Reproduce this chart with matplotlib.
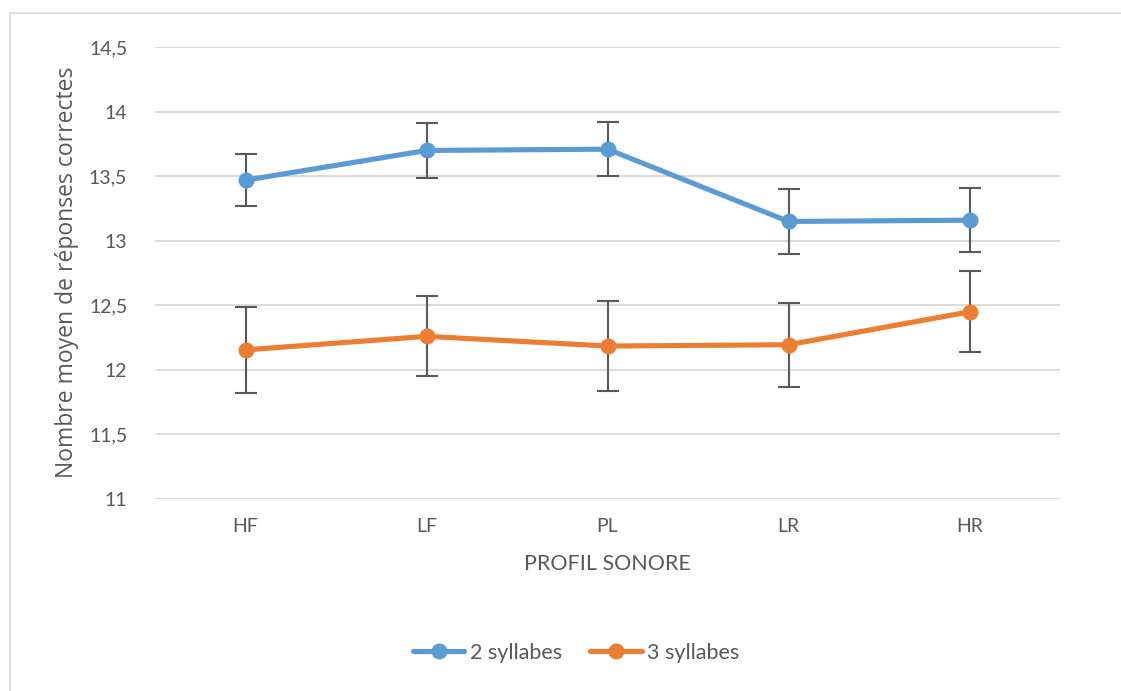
import matplotlib
matplotlib.use("Agg")
import matplotlib.pyplot as plt
from matplotlib.patches import Rectangle

categories = ["HF", "LF", "PL", "LR", "HR"]
series_names = ["2 syllabes", "3 syllabes"]
values_2syl = [13.47, 13.70, 13.71, 13.15, 13.16]
errors_2syl = [0.20, 0.21, 0.21, 0.25, 0.25]
values_3syl = [12.155, 12.26, 12.185, 12.195, 12.45]
errors_3syl = [0.335, 0.31, 0.345, 0.325, 0.315]
y_ticks = [11, 11.5, 12, 12.5, 13, 13.5, 14, 14.5]
y_tick_labels = ["11", "11,5", "12", "12,5", "13", "13,5", "14", "14,5"]

blue = "#5B9BD5"
orange = "#ED7D31"
grey_txt = "#595959"

plt.rcParams['font.family'] = ['Lato', 'DejaVu Sans']

fig = plt.figure(figsize=(11.21, 6.91), dpi=100)
fig.patches.append(Rectangle((10/1121, -0.01), 1.02, 1 - 13/691 + 0.01, transform=fig.transFigure,
                             fill=False, edgecolor="#D9D9D9", linewidth=1.2))
ax = fig.add_axes([155/1121, 1 - 499/691, 905/1121, (499 - 47.2)/691])

x = list(range(len(categories)))
for vals, errs, col, name in [(values_2syl, errors_2syl, blue, series_names[0]),
                              (values_3syl, errors_3syl, orange, series_names[1])]:
    ax.errorbar(x, vals, yerr=errs, fmt='none', ecolor=grey_txt, elinewidth=1.5,
                capsize=8, capthick=1.5, zorder=3)
    ax.plot(x, vals, color=col, linewidth=3.7, marker='o', markersize=10.5,
            label=name, zorder=4, solid_capstyle='round')

ax.set_xlim(-0.5, 4.5)
ax.set_ylim(11, 14.5)
ax.set_yticks(y_ticks)
ax.set_yticklabels(y_tick_labels)
ax.set_xticks(x)
ax.set_xticklabels(categories)
ax.grid(axis='y', color="#D9D9D9", linewidth=1.3)
ax.set_axisbelow(True)
for s in ax.spines.values():
    s.set_visible(False)
ax.tick_params(axis='both', length=0, labelsize=14, colors=grey_txt)
ax.tick_params(axis='y', pad=20)
ax.tick_params(axis='x', pad=14)

ax.set_xlabel("PROFIL SONORE", fontsize=15.5, color=grey_txt, labelpad=13)
fig.text(67/1121, 1 - 272/691, "Nombre moyen de réponses correctes", rotation=90,
         ha='center', va='center', fontsize=16.5, color=grey_txt, family=['Open Sans', 'DejaVu Sans'])

leg = fig.legend(loc='center', bbox_to_anchor=(576/1121, 1 - 653/691), ncol=2, frameon=False,
                 fontsize=15.5, handlelength=2.4, columnspacing=1.3, handletextpad=0.25,
                 labelcolor=grey_txt)

fig.savefig("out.png", dpi=100)
